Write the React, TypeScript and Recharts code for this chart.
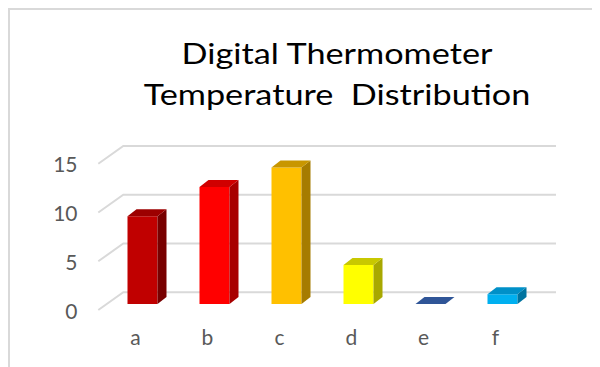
import React from 'react';
import { BarChart, Bar, XAxis, YAxis, CartesianGrid, Cell } from 'recharts';

const categories = ['a', 'b', 'c', 'd', 'e', 'f'];
const counts = [9, 12, 14, 4, 0, 1];
const yTicks = [0, 5, 10, 15];
const titleLines = ['Digital Thermometer', 'Temperature  Distribution'];

const frontColors = ['#C00000', '#FF0000', '#FFC000', '#FFFF00', '#2F5597', '#00B0F0'];
const topColors = ['#9C0000', '#D00000', '#C89600', '#C8C800', '#2F5597', '#0090C8'];
const sideColors = ['#780000', '#A80000', '#A67C00', '#A8A800', '#1F3A6A', '#0074A0'];

const data = categories.map((c, i) => ({ name: c, value: counts[i], idx: i }));

const DX = 9;
const DY = 7;
const LABEL_COLOR = '#595959';
const FONT = 'Lato, "Open Sans", sans-serif';

const Bar3D = (props: any) => {
  const { x, y, width, height, payload } = props;
  const i = payload.idx;
  const h = Math.max(0, height || 0);
  const top = y;
  return (
    <g>
      {h > 0 && <rect x={x} y={top} width={width} height={h} fill={frontColors[i]} />}
      {h > 0 && (
        <polygon
          points={`${x + width},${top} ${x + width + DX},${top - DY} ${x + width + DX},${top + h - DY} ${x + width},${top + h}`}
          fill={sideColors[i]}
        />
      )}
      <polygon
        points={`${x},${top} ${x + DX},${top - DY} ${x + width + DX},${top - DY} ${x + width},${top}`}
        fill={topColors[i]}
      />
    </g>
  );
};

const gridLine = (p: any) => {
  const { y1, x1, key } = p;
  const fx = x1 - 8.2;
  const bx = x1 + 16.8;
  const ex = x1 + 449.5;
  return (
    <path
      key={key}
      d={`M${fx},${y1 + 6} L${bx},${y1 - 11.7} L${ex},${y1 - 11.7}`}
      stroke="#D9D9D9"
      strokeWidth={2}
      fill="none"
    />
  );
};

const XTick = (p: any) => {
  const { x, y, payload } = p;
  return (
    <text x={x - 7} y={y + 41} textAnchor="middle" fill={LABEL_COLOR} fontSize={21} fontFamily={FONT}>
      {payload.value}
    </text>
  );
};

const YTick = (p: any) => {
  const { x, y, payload } = p;
  return (
    <text x={x - 29} y={y + 14.7} textAnchor="end" fill={LABEL_COLOR} fontSize={21} fontFamily={FONT}>
      {payload.value}
    </text>
  );
};

export default function App() {
  return (
    <div style={{ position: 'relative', width: 592, height: 359, overflow: 'hidden' }}>
      <BarChart
        width={592}
        height={359}
        data={data}
        margin={{ top: 149.75, right: 61.5, bottom: 33, left: 30 }}
      >
        <CartesianGrid vertical={false} horizontal={gridLine} />
        <XAxis
          dataKey="name"
          axisLine={false}
          tickLine={false}
          tickSize={0}
          tickMargin={0}
          height={30}
          tick={XTick}
          interval={0}
        />
        <YAxis
          domain={[0, 15]}
          ticks={yTicks}
          axisLine={false}
          tickLine={false}
          tickSize={0}
          tickMargin={0}
          width={68.5}
          tick={YTick}
          interval={0}
        />
        <Bar dataKey="value" barSize={30} shape={Bar3D} isAnimationActive={false}>
          {data.map((d) => (
            <Cell key={d.name} fill={frontColors[d.idx]} />
          ))}
        </Bar>
      </BarChart>
      <div
        style={{
          position: 'absolute',
          left: 0,
          top: 0,
          width: 592,
          height: 359,
          borderTop: '2px solid #D9D9D9',
          borderLeft: '2px solid #D9D9D9',
          boxSizing: 'border-box',
          pointerEvents: 'none',
        }}
      />
      {titleLines.map((t, i) => (
        <div
          key={t}
          style={{
            position: 'absolute',
            left: 29,
            width: 600,
            top: 28 + i * 41,
            textAlign: 'center',
            fontFamily: FONT,
            fontSize: 29,
            lineHeight: '34px',
            color: '#000000',
            whiteSpace: 'pre',
            transform: 'scaleX(1.18)',
            transformOrigin: '300px 50%',
          }}
        >
          {t}
        </div>
      ))}
    </div>
  );
}
